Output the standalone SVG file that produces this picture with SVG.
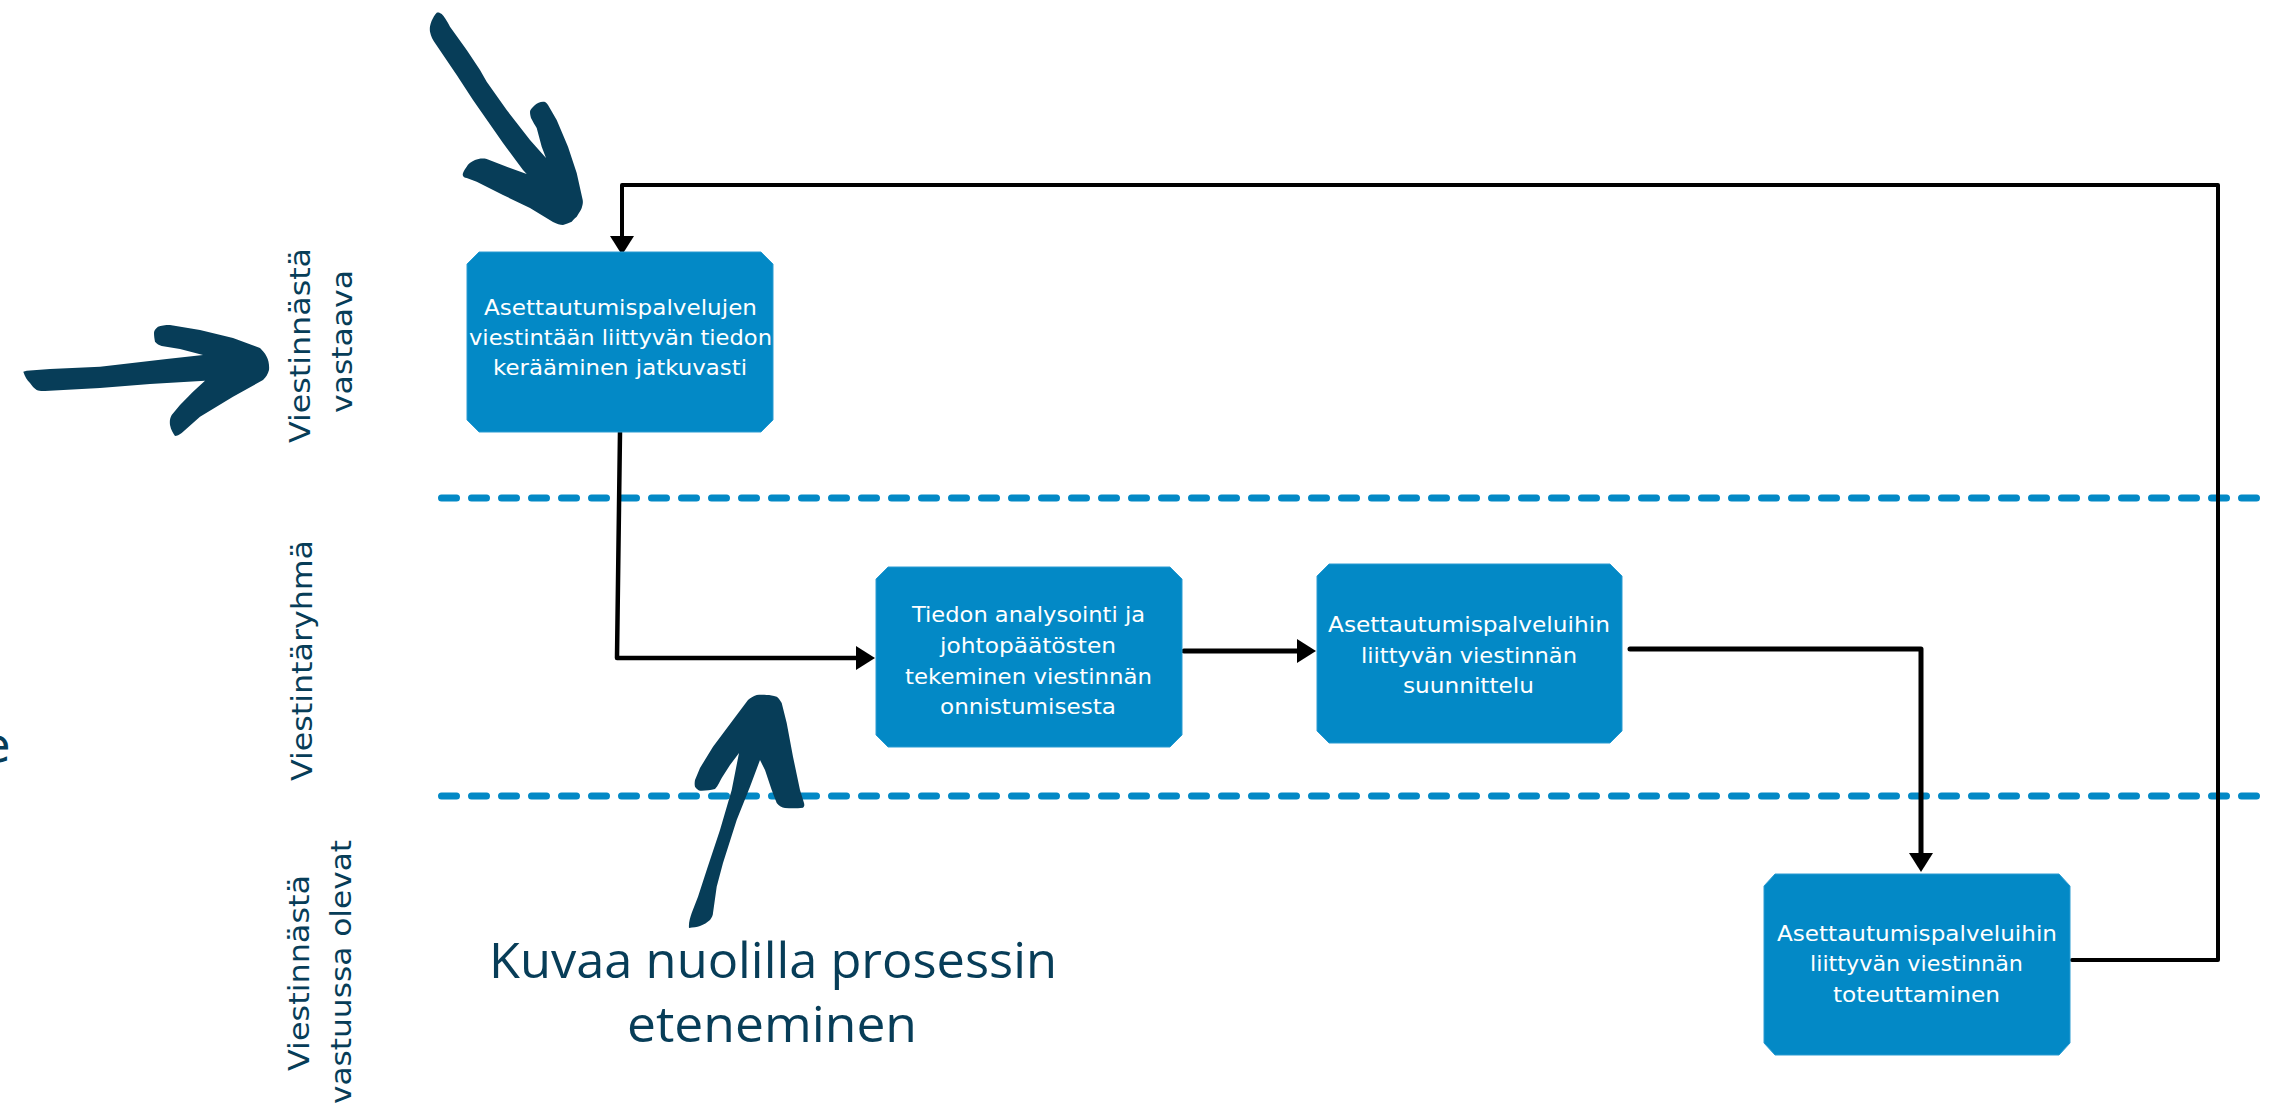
<svg xmlns="http://www.w3.org/2000/svg" width="2275" height="1103" viewBox="0 0 2275 1103">
<style>
.box{fill:#0389c6;stroke:#2a9bd2;stroke-width:1}
.bt{font-family:"DejaVu Sans","Open Sans",sans-serif;font-size:21px;fill:#ffffff}
.lane{font-family:"DejaVu Sans","Open Sans",sans-serif;font-size:29px;fill:#073d58}
.cap{font-family:"Open Sans","Lato",sans-serif;font-size:50px;fill:#073d58}
.con{fill:none;stroke:#000;stroke-width:5;stroke-linejoin:round;stroke-linecap:round}
.dash{fill:none;stroke:#0389c6;stroke-width:7;stroke-linecap:round;stroke-dasharray:15 15}
.brush{fill:#073d58}
</style>
<defs>
<marker id="ah" markerUnits="userSpaceOnUse" markerWidth="20" markerHeight="24" viewBox="0 0 20 24" refX="3" refY="12" orient="auto">
<path d="M0,0 L19,12 L0,24 Z" fill="#000"/>
</marker>
</defs>
<rect width="2275" height="1103" fill="#ffffff"/>

<g id="lanes">
<line class="dash" x1="441.5" y1="498" x2="2265" y2="498"/>
<line class="dash" x1="441.5" y1="796" x2="2265" y2="796"/>
</g>

<g id="lane-labels">
<text class="lane" transform="translate(310,443) rotate(-90)" textLength="195" lengthAdjust="spacingAndGlyphs">Viestinnästä</text>
<text class="lane" transform="translate(352,413) rotate(-90)" textLength="143" lengthAdjust="spacingAndGlyphs">vastaava</text>
<text class="lane" transform="translate(312,781) rotate(-90)" textLength="241" lengthAdjust="spacingAndGlyphs">Viestintäryhmä</text>
<text class="lane" transform="translate(309,1071) rotate(-90)" textLength="196" lengthAdjust="spacingAndGlyphs">Viestinnästä</text>
<text class="lane" transform="translate(351,1104) rotate(-90)" textLength="264" lengthAdjust="spacingAndGlyphs">vastuussa olevat</text>
<text class="lane" x="-19" y="762" style="font-size:48px">e</text>
</g>

<g id="connectors">
<polyline class="con" style="stroke-width:4" points="2072,960 2218,960 2218,185 622,185 622,239" marker-end="url(#ah)"/>
<polyline class="con" style="stroke-width:4.5" points="620,432 617,658 859,658" marker-end="url(#ah)"/>
<polyline class="con" points="1184,651 1300,651" marker-end="url(#ah)"/>
<polyline class="con" points="1630,649 1921,649 1921,856" marker-end="url(#ah)"/>
</g>

<g id="node1">
<polygon class="box" points="479,252 761,252 773,264 773,420 761,432 479,432 467,420 467,264"/>
<text class="bt" x="484" y="315" textLength="273" lengthAdjust="spacingAndGlyphs">Asettautumispalvelujen</text>
<text class="bt" x="469" y="345" textLength="303" lengthAdjust="spacingAndGlyphs">viestintään liittyvän tiedon</text>
<text class="bt" x="493" y="375" textLength="254" lengthAdjust="spacingAndGlyphs">kerääminen jatkuvasti</text>
</g>

<g id="node2">
<polygon class="box" points="888,567 1170,567 1182,579 1182,735 1170,747 888,747 876,735 876,579"/>
<text class="bt" x="912" y="622" textLength="233" lengthAdjust="spacingAndGlyphs">Tiedon analysointi ja</text>
<text class="bt" x="940" y="653" textLength="176" lengthAdjust="spacingAndGlyphs">johtopäätösten</text>
<text class="bt" x="905" y="684" textLength="247" lengthAdjust="spacingAndGlyphs">tekeminen viestinnän</text>
<text class="bt" x="940" y="714" textLength="176" lengthAdjust="spacingAndGlyphs">onnistumisesta</text>
</g>

<g id="node3">
<polygon class="box" points="1329,564 1610,564 1622,576 1622,731 1610,743 1329,743 1317,731 1317,576"/>
<text class="bt" x="1328" y="632" textLength="282" lengthAdjust="spacingAndGlyphs">Asettautumispalveluihin</text>
<text class="bt" x="1361" y="663" textLength="216" lengthAdjust="spacingAndGlyphs">liittyvän viestinnän</text>
<text class="bt" x="1403" y="693" textLength="131" lengthAdjust="spacingAndGlyphs">suunnittelu</text>
</g>

<g id="node4">
<polygon class="box" points="1775,874 2059,874 2070,886 2070,1043 2059,1055 1775,1055 1764,1043 1764,886"/>
<text class="bt" x="1777" y="941" textLength="280" lengthAdjust="spacingAndGlyphs">Asettautumispalveluihin</text>
<text class="bt" x="1810" y="971" textLength="213" lengthAdjust="spacingAndGlyphs">liittyvän viestinnän</text>
<text class="bt" x="1833" y="1002" textLength="167" lengthAdjust="spacingAndGlyphs">toteuttaminen</text>
</g>

<g id="hand-arrows">
<path class="brush" d="M436.7,12.7 C432,18 429,26 430,31.7 C431,37 433,40 435,43 L456.7,75 L473,100 L503,143 L523,170 L526.7,174 L506.7,166.7 L486.7,159 C482,158 478,159 475,160 C471,162 468,164 466.7,166.7 C464,170 462.7,173 462.7,175 C463,177 465,178 466.7,178 L476.7,181.7 L503,195 L530,208 L553,222 C557,224 560,225 563,225 C566,224 569,223 571.7,221.7 C574,219 575,218 576.7,216.7 C579,213 581,210 581.7,208 C583,204 583,202 582.7,200 L576.7,173 L568,146.7 L556.7,120 L548,105 C546,102 545,101.7 543,101.7 C540,102 537,103 535,105 C532,108 530,110 530,111.7 C530,114 530.5,116 531,118 C533,122 535,125 536.7,128 L541.7,146.7 L546,158 L530,140 L506.7,110 L486.7,81.7 L480,70 L466.7,50 L450,26.7 C447,21 444,16 441.7,14 C440,12.5 438,12 436.7,12.7 Z"/>
<path class="brush" d="M23.3,371.7 C25,377 27,380 30,383 C32,386 34,388 36.7,390 C39,391 42,391.3 45,391 L100,388 L150,384 L205,380.7 L193,391.7 L180,405 L171.7,415 C170,418 169.5,421 170,425 C171,430 173,433 175,436 C177,436 179,435 181.7,433 L200,416.7 L233,396.7 L263,380 C266,377 268,374 269,370 C269.5,365 268.5,360 266.7,356.7 C265,353 262,350 260,348 L233,338 L200,330 L170,325 C165,325 161,325.5 158,326.7 C155,329 154,331 154,333 C154,336 154.5,339 155,341.7 C157,344 159,345 161.7,346 L180,349 L203,355 L166.7,359 L100,366.7 L50,369 L26.7,370.7 Z"/>
<path class="brush" d="M689,928 C693,927.5 697,927 700,926 C704,924.5 707,922.5 710,920 C712,917 713,915 713,913 L716.7,886.7 L723,863 L736.7,820 L750,786.7 L760,760 L765,770 L771.7,790 L776.7,803 C779,806 782,807.5 785,808 C791,808.5 797,808.5 803,807.7 C804.5,806.5 804.5,805 804,803 L800,790 L793,756.7 L786.7,723 L781.7,703 C780,700 778.5,698 776.7,696.7 C773,695.5 770,695 766.7,695 C763,694.5 760,694.5 756.7,695 C753,696 750.5,698 748,700 L733,720 L713,746.7 L700,768 L695,780 C694.5,783 694.5,785 695,786.7 C696.5,789 698,790 700,790.7 C705,791 710,790 715,789 C718,786 720,781 721.7,778 L730,765 L739,753 L731.7,790 L720,830 L706.7,870 L698,896.7 L691.7,913 C690,918 688.5,923 689,928 Z"/>
</g>

<g id="caption">
<text class="cap" x="489" y="978" textLength="568" lengthAdjust="spacingAndGlyphs">Kuvaa nuolilla prosessin</text>
<text class="cap" x="627" y="1042" textLength="290" lengthAdjust="spacingAndGlyphs">eteneminen</text>
</g>
</svg>
